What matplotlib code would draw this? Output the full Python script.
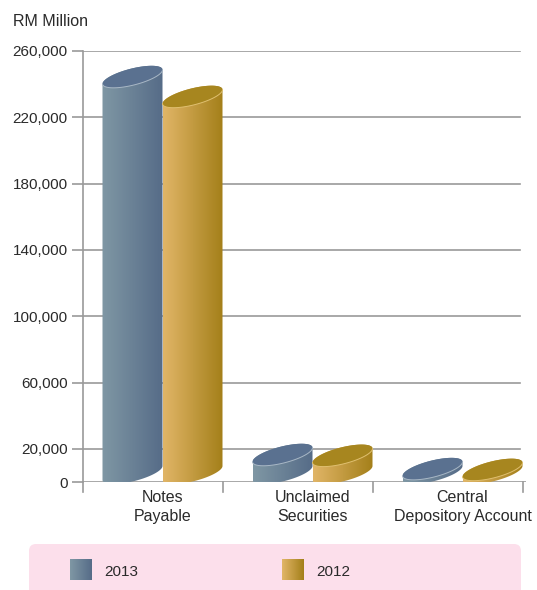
import numpy as np
import matplotlib.pyplot as plt
from matplotlib.patches import Polygon, FancyBboxPatch
from matplotlib.transforms import IdentityTransform, blended_transform_factory
from matplotlib.colors import LinearSegmentedColormap

plt.rcParams['font.family'] = ['Liberation Sans', 'DejaVu Sans']

categories = ['Notes\nPayable', 'Unclaimed\nSecurities', 'Central\nDepository Account']
years = ['2013', '2012']
values_2013 = [239000, 11000, 2500]
values_2012 = [227000, 10500, 2000]
y_ticks = [0, 20000, 60000, 100000, 140000, 180000, 220000, 260000]

# body gradient (left, right), top face, rim
styles = {
    '2013': ('#7f97a4', '#566c88', '#5a7190', '#a9b8c6'),
    '2012': ('#e1b567', '#a4801a', '#a7861f', '#e0c070'),
}
text_col = '#2a2a2a'
line_col = '#9a9a9a'

W, H = 537, 590
fig = plt.figure(figsize=(W / 100, H / 100), dpi=100)
ax = fig.add_axes([83 / W, 108 / H, 442.5 / W, 431 / H])
ax.set_xlim(-0.53, 2.42)
ax.set_ylim(0, 260000)
for s in ['top', 'right', 'bottom']:
    ax.spines[s].set_visible(False)
ax.spines['left'].set_color(line_col)
ax.spines['left'].set_linewidth(1.2)

ax.set_yticks(y_ticks)
ax.set_yticklabels([f'{v:,}' for v in y_ticks], fontsize=11, color=text_col)
ax.tick_params(axis='y', length=8, width=1.2, color=line_col, pad=3)
ax.set_xticks(range(len(categories)))
ax.set_xticklabels(categories, fontsize=11.5, color=text_col, linespacing=1.32)
ax.tick_params(axis='x', length=0, pad=6)

for v in y_ticks[1:]:
    ax.axhline(v, xmin=0, xmax=(520 - 83) / 442.5, color=line_col, lw=1.2, zorder=1)
ax.axhline(0, color=line_col, lw=1.2, zorder=1)

# separators below the baseline
sep = blended_transform_factory(ax.transData, ax.transAxes)
drop = -10 / 431
for xs in [-0.53] + [i + 0.4 for i in range(len(categories))]:
    ax.plot([xs, xs], [0, drop], transform=sep, color=line_col, lw=1.2, clip_on=False)

half_w, tilt, minor, lift = 30, 7, 8.5, 9
inv = ax.transData.inverted()


def cylinder(x, value, light, dark, top, rim):
    bx, by = ax.transData.transform((x, 0))
    tx, ty = ax.transData.transform((x, value))
    by += lift
    ty += lift
    t = np.linspace(0, np.pi, 80)
    back = np.column_stack([tx + half_w * np.cos(t),
                            ty + tilt * np.cos(t) + minor * np.sin(t)])
    tb = t + np.pi
    front = np.column_stack([bx + half_w * np.cos(tb),
                             by + tilt * np.cos(tb) + minor * np.sin(tb)])
    body = Polygon(np.vstack([back, front]), closed=True, transform=IdentityTransform(),
                   facecolor='none', edgecolor='none', zorder=3)
    ax.add_patch(body)
    (x0, y0), (x1, y1) = inv.transform([(bx - half_w, by - 14), (bx + half_w, ty + 14)])
    cmap = LinearSegmentedColormap.from_list('g', [light, dark])
    img = ax.imshow(np.linspace(0, 1, 64)[None, :], cmap=cmap, extent=(x0, x1, y0, y1),
                    aspect='auto', zorder=3, interpolation='bilinear')
    img.set_clip_path(body)

    ta = np.linspace(0, 2 * np.pi, 160)
    cap = np.column_stack([tx + half_w * np.cos(ta),
                           ty + tilt * np.cos(ta) + minor * np.sin(ta)])
    ax.add_patch(Polygon(cap, closed=True, transform=IdentityTransform(),
                         facecolor=top, edgecolor='none', zorder=4))
    tl = np.linspace(np.pi, 2 * np.pi, 80)
    ax.plot(tx + half_w * np.cos(tl), ty + tilt * np.cos(tl) + minor * np.sin(tl),
            transform=IdentityTransform(), color=rim, lw=0.7, zorder=5)


for i in range(len(categories)):
    cylinder(i - 0.2, values_2013[i], *styles['2013'])
    cylinder(i + 0.2, values_2012[i], *styles['2012'])

ax.set_xlim(-0.53, 2.42)
ax.set_ylim(0, 260000)

# overlay in pixel coordinates for the unit label and legend box
lax = fig.add_axes([0, 0, 1, 1])
lax.set_xlim(0, W)
lax.set_ylim(H, 0)
lax.axis('off')
lax.patch.set_visible(False)
lax.text(13, 22, 'RM Million', fontsize=11.5, color=text_col, va='center', ha='left')
lax.add_patch(FancyBboxPatch((29, 544), 492, 60, boxstyle='round,pad=0,rounding_size=7',
                             facecolor='#fcdfeb', edgecolor='none'))
legend_pos = [(70, 104), (282, 316)]
for (sx, lx), yr in zip(legend_pos, years):
    light, dark = styles[yr][:2]
    cmap = LinearSegmentedColormap.from_list('g', [light, dark])
    lax.imshow(np.linspace(0, 1, 32)[None, :], cmap=cmap, extent=(sx, sx + 22, 580, 559),
               aspect='auto', interpolation='bilinear', zorder=3)
    lax.text(lx, 572, yr, fontsize=11, color=text_col, va='center', ha='left')
lax.set_xlim(0, W)
lax.set_ylim(H, 0)

fig.savefig('out.png', dpi=100)
